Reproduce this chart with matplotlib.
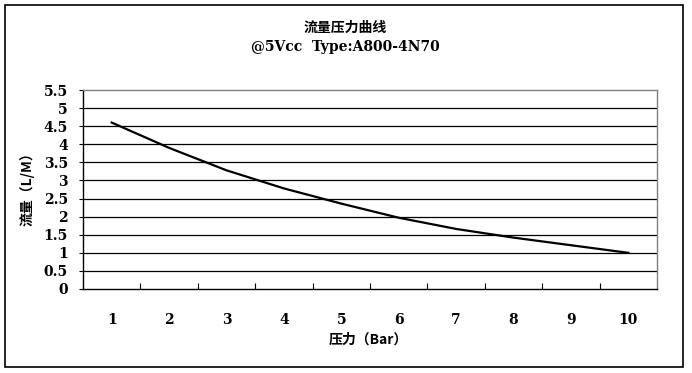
import matplotlib
matplotlib.use("Agg")
import matplotlib.pyplot as plt
from matplotlib.patches import Rectangle
import numpy as np

# 压力 (Bar) 与 流量 (L/M) 数据
pressure = [1, 2, 3, 4, 5, 6, 7, 8, 9, 10]
flow = [4.6, 3.9, 3.28, 2.78, 2.36, 1.97, 1.66, 1.42, 1.21, 1.0]
y_ticks = [0, 0.5, 1, 1.5, 2, 2.5, 3, 3.5, 4, 4.5, 5, 5.5]

fam = ['DejaVu Serif', 'Noto Sans CJK SC']
cjk = ['Noto Sans CJK SC', 'DejaVu Serif']

fig = plt.figure(figsize=(6.92, 3.73), dpi=100)
ax = fig.add_axes([83/692, 84/373, 574/692, 199/373])

# 外框
fig.patches.append(Rectangle((5/692, 6/373), 678/692, 362/373, transform=fig.transFigure,
                             fill=False, edgecolor='black', linewidth=1.2))

# 网格线 (Excel 风格, 黑色)
for v in y_ticks[1:-1]:
    ax.axhline(v, color='black', linewidth=0.9, zorder=1)

ax.plot(pressure, flow, color='black', linewidth=1.6, zorder=3,
        solid_joinstyle='round')

ax.set_xlim(0.5, 10.5)
ax.set_ylim(0, 5.5)
ax.set_yticks(y_ticks)
ax.set_yticklabels(['%g' % v for v in y_ticks], family=fam, fontsize=10, fontweight='bold')
ax.set_xticks(pressure)
ax.set_xticklabels([str(p) for p in pressure], family=fam, fontsize=10, fontweight='bold')
ax.set_xticks(np.arange(1.5, 10.5, 1), minor=True)
ax.tick_params(axis='x', which='major', length=0, pad=17)
ax.tick_params(axis='x', which='minor', direction='in', length=4, width=0.8)
ax.tick_params(axis='y', direction='out', length=3, width=0.8, pad=8)

for s in ['left', 'bottom']:
    ax.spines[s].set_color('black')
    ax.spines[s].set_linewidth(1.0)
for s in ['top', 'right']:
    ax.spines[s].set_color('#808080')
    ax.spines[s].set_linewidth(1.0)

fig.text(345/692, 1 - 28/373, '流量压力曲线', family=cjk, fontsize=10, fontweight='bold',
         ha='center', va='center')
fig.text(345/692, 1 - 47/373, '@5Vcc  Type:A800-4N70', family=fam, fontsize=10,
         fontweight='bold', ha='center', va='center')
fig.text(368/692, 1 - 340/373, '压力（Bar）', family=cjk, fontsize=10, fontweight='bold',
         ha='center', va='center')
fig.text(27/692, 1 - 186/373, '流量（L/M）', family=cjk, fontsize=10, fontweight='bold',
         ha='center', va='center', rotation=90)

fig.savefig('out.png', dpi=100)
